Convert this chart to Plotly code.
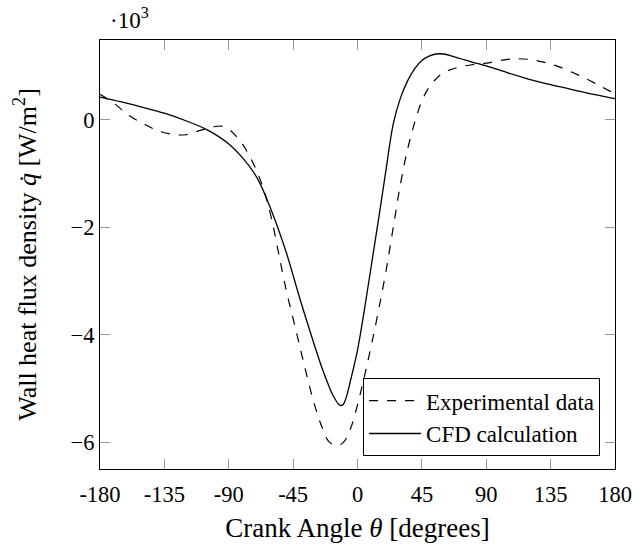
import plotly.graph_objects as go

# Crank angle (degrees) and wall heat flux density (x 10^3 W/m^2)
exp_theta = [-180, -170, -160, -150, -140, -130, -120, -110, -100, -95, -90, -85, -80, -75,
             -70, -65, -60, -55, -50, -45, -40, -35, -30, -25, -20, -15, -10, -5, 0, 5,
             10, 15, 20, 25, 30, 35, 40, 45, 50, 55, 60, 70, 80, 90, 100, 110, 120, 130,
             140, 150, 160, 170, 180]
exp_q = [0.47, 0.30, 0.08, -0.07, -0.20, -0.27, -0.28, -0.20, -0.13, -0.12, -0.18, -0.30, -0.47, -0.70,
         -0.98, -1.35, -1.85, -2.50, -3.15, -3.70, -4.25, -4.80, -5.30, -5.70, -5.98, -6.05, -6.00, -5.75, -5.30, -4.75,
         -4.15, -3.50, -2.80, -2.00, -1.20, -0.55, -0.05, 0.35, 0.60, 0.76, 0.87, 0.97, 1.02, 1.05, 1.10, 1.13, 1.12, 1.07,
         0.99, 0.88, 0.76, 0.62, 0.48]

cfd_theta = [-180, -165, -150, -135, -120, -105, -90, -80, -70, -60, -50, -40, -30, -25, -20,
             -17, -14, -12, -10, -8, -5, 0, 5, 10, 15, 20, 25, 30, 35, 40, 45, 50, 55, 60, 70, 80, 90,
             105, 120, 135, 150, 165, 180]
cfd_q = [0.42, 0.33, 0.23, 0.12, -0.02, -0.19, -0.45, -0.72, -1.09, -1.70, -2.45, -3.35, -4.20, -4.60, -4.95,
         -5.13, -5.26, -5.31, -5.29, -5.17, -4.86, -4.28, -3.50, -2.65, -1.80, -0.92, -0.08, 0.40, 0.72, 0.95, 1.10, 1.18, 1.22, 1.22, 1.15, 1.07, 1.00,
         0.87, 0.75, 0.65, 0.56, 0.47, 0.39]

x_ticks = [-180, -135, -90, -45, 0, 45, 90, 135, 180]
x_ticktext = ["-180", "-135", "-90", "-45", "0", "45", "90", "135", "180"]
y_ticks = [0, -2, -4, -6]
y_ticktext = ["0", "\u22122", "\u22124", "\u22126"]

FONT = "Liberation Serif"

fig = go.Figure()
fig.add_trace(go.Scatter(x=exp_theta, y=exp_q, mode="lines", name="Experimental data",
                         line=dict(color="black", width=1.2, dash="9px,9px", shape="spline", smoothing=1.0)))
fig.add_trace(go.Scatter(x=cfd_theta, y=cfd_q, mode="lines", name="CFD calculation",
                         line=dict(color="black", width=1.3, shape="spline", smoothing=1.0)))

fig.update_layout(
    width=644, height=550,
    margin=dict(l=100, r=22, t=40, b=76),
    paper_bgcolor="white", plot_bgcolor="white",
    font=dict(family=FONT, size=22.5, color="black"),
    showlegend=True,
    legend=dict(x=0.971, xanchor="right", y=0.03, yanchor="bottom",
                bordercolor="black", borderwidth=1, bgcolor="white", itemwidth=52,
                font=dict(family=FONT, size=23)),
    annotations=[dict(text="\u00b710<sup>3</sup>", xref="paper", yref="paper", x=0.015, y=1,
                      xanchor="left", yanchor="bottom", yshift=5, showarrow=False,
                      font=dict(family=FONT, size=23))],
)
fig.update_xaxes(range=[-180, 180], tickvals=x_ticks, ticktext=x_ticktext,
                 showgrid=False, zeroline=False, showline=True, linecolor="black", linewidth=1,
                 mirror="ticks", ticks="inside", ticklen=10, tickcolor="#999999",
                 ticklabelstandoff=5,
                 title=dict(text="Crank Angle <i>\u03b8</i> [degrees]", standoff=12))
fig.update_yaxes(range=[-6.49, 1.48], tickvals=y_ticks, ticktext=y_ticktext,
                 showgrid=False, zeroline=False, showline=True, linecolor="black", linewidth=1,
                 mirror="ticks", ticks="inside", ticklen=10, tickcolor="#999999",
                 title=dict(text="Wall heat flux density <i>q\u0307</i> [W/m<sup>2</sup>]", standoff=26,
                            font=dict(size=26)))

fig.write_html("out.html", config={"displayModeBar": False},
               post_script="document.body.style.margin='0';")
